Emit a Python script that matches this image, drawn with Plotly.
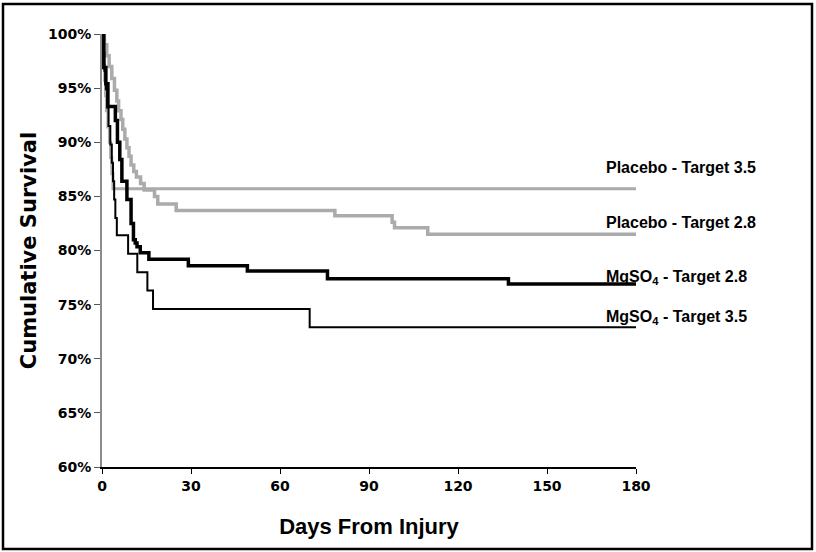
import plotly.graph_objects as go

# ---- data ----
placebo35_days = [0, 0.3, 0.6, 0.9, 1.2, 1.5, 2.0, 2.5, 2.9, 3.3, 3.7, 180]
placebo35_surv = [100, 98.6, 97.1, 95.7, 94.3, 92.9, 91.4, 90.0, 88.6, 87.1, 85.7, 85.7]

placebo28_days = [0, 0.8, 1.6, 2.4, 3.3, 4.2, 5.0, 5.6, 6.4, 7.0, 7.7, 8.4, 9.1, 9.8,
                  10.7, 11.6, 13.0, 14.2, 17.7, 18.8, 25.0, 78.5, 97.8, 98.6, 109.8, 180]
placebo28_surv = [100, 99.0, 98.0, 97.0, 95.9, 94.8, 93.8, 92.9, 92.1, 91.2, 90.3, 89.5, 88.7, 87.9,
                  87.3, 86.8, 86.2, 85.6, 85.0, 84.3, 83.7, 83.2, 82.6, 82.1, 81.5, 81.5]

mg28_days = [0, 0.6, 1.3, 2.0, 4.5, 5.2, 6.0, 6.7, 8.4, 9.8, 10.6, 11.2, 11.8, 12.9,
             15.8, 29.1, 49.0, 76.0, 137.0, 180]
mg28_surv = [100, 96.9, 95.4, 93.3, 92.0, 90.0, 88.4, 86.4, 84.7, 82.5, 81.0, 80.7, 80.35, 79.8,
             79.2, 78.6, 78.1, 77.4, 76.9, 76.9]

mg35_days = [0, 0.3, 0.8, 1.3, 1.8, 2.2, 2.8, 3.3, 3.7, 4.1, 4.5, 5.0, 8.8, 11.9, 15.3, 17.2, 70.0, 180]
mg35_surv = [100, 98.3, 96.6, 94.9, 93.2, 91.5, 89.8, 88.1, 86.4, 84.7, 83.0, 81.4, 79.7, 78.0,
             76.3, 74.6, 72.9, 72.9]

series_names = ["Placebo - Target 3.5", "Placebo - Target 2.8",
                "MgSO<sub>4</sub> - Target 2.8", "MgSO<sub>4</sub> - Target 3.5"]
label_y = [87.7, 82.6, 77.5, 73.8]

x_ticks = [0, 30, 60, 90, 120, 150, 180]
y_ticks = [60, 65, 70, 75, 80, 85, 90, 95, 100]

fig = go.Figure()

fig.add_trace(go.Scatter(x=placebo35_days, y=placebo35_surv, mode="lines",
                         line=dict(shape="hv", color="#ababab", width=3), showlegend=False))
fig.add_trace(go.Scatter(x=placebo28_days, y=placebo28_surv, mode="lines",
                         line=dict(shape="hv", color="#ababab", width=3.5), showlegend=False))
fig.add_trace(go.Scatter(x=mg35_days, y=mg35_surv, mode="lines",
                         line=dict(shape="hv", color="#000000", width=2), showlegend=False))
fig.add_trace(go.Scatter(x=mg28_days, y=mg28_surv, mode="lines",
                         line=dict(shape="hv", color="#000000", width=3.5), showlegend=False))

for name, yv in zip(series_names, label_y):
    fig.add_annotation(x=169.2, y=yv, xref="x", yref="y", text="<b>" + name + "</b>",
                       showarrow=False, xanchor="left", yanchor="middle",
                       font=dict(family="Liberation Sans, Arial, sans-serif", size=16, color="#000"))

# outer black frame
fig.add_shape(type="rect", xref="paper", yref="paper",
              x0=-0.1854, x1=1.3296, y0=-0.1894, y1=1.0693,
              line=dict(color="#000", width=2.5), fillcolor="rgba(0,0,0,0)", layer="above")

fig.update_layout(
    width=816, height=552,
    margin=dict(l=102, r=180, t=34, b=85),
    plot_bgcolor="white", paper_bgcolor="white",
    xaxis=dict(range=[0, 180], tickvals=x_ticks, ticktext=[str(v) for v in x_ticks],
               showgrid=False, zeroline=False, showline=True, linecolor="#000", linewidth=1.5,
               ticks="outside", ticklen=5, tickcolor="#000", tickwidth=1,
               tickfont=dict(family="DejaVu Sans, Verdana, sans-serif", size=14, color="#000", weight="bold"),
               title=dict(text="<b>Days From Injury</b>", standoff=26,
                          font=dict(family="Liberation Sans, Arial, sans-serif", size=22, color="#000"))),
    yaxis=dict(range=[60, 100], tickvals=y_ticks, ticktext=[f"{v}%" for v in y_ticks],
               showgrid=False, zeroline=False, showline=True, linecolor="#8c8c8c", linewidth=2,
               ticks="outside", ticklen=6, tickcolor="#555", tickwidth=1,
               tickfont=dict(family="DejaVu Sans, Verdana, sans-serif", size=14, color="#000", weight="bold"),
               title=dict(text="<b>Cumulative Survival</b>", standoff=6,
                          font=dict(family="DejaVu Sans, Verdana, sans-serif", size=21, color="#000"))),
)

fig.write_html("out.html", config={"displayModeBar": False},
               post_script="document.body.style.margin='0';")
